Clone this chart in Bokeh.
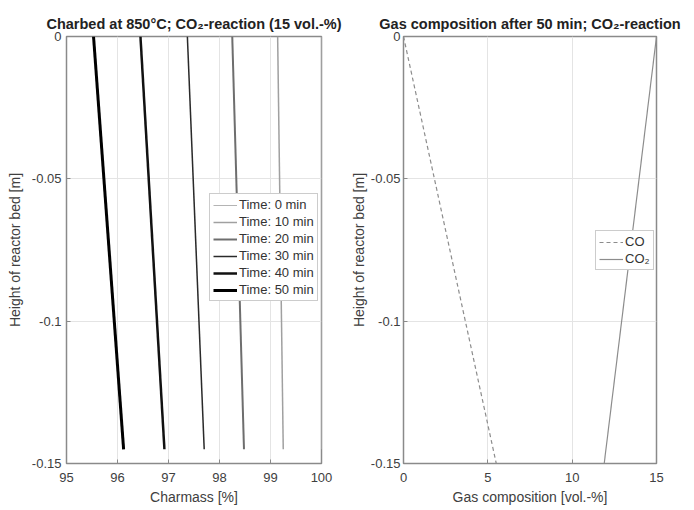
from bokeh.plotting import figure
from bokeh.layouts import row
from bokeh.models import FixedTicker, Legend, LegendItem
from bokeh.embed import file_html
from bokeh.resources import INLINE

# ---- data ----
heights = [0.0, -0.145]
times = [0, 10, 20, 30, 40, 50]
charmass_top = [100.0, 99.14, 98.25, 97.37, 96.45, 95.53]
charmass_bottom = [100.0, 99.25, 98.48, 97.70, 96.92, 96.12]

gas_heights = [0.0, -0.15]
co_values = [0.0, 5.5]
co2_values = [15.0, 11.9]

x1_ticks = [95, 96, 97, 98, 99, 100]
x2_ticks = [0, 5, 10, 15]
y_ticks = [0, -0.05, -0.1, -0.15]
y_tick_labels = {0: "0", -0.05: "-0.05", -0.1: "-0.1", -0.15: "-0.15"}

line_colors = ["#b4b4b4", "#a0a0a0", "#6e6e6e", "#2a2a2a", "#111111", "#000000"]
line_widths = [1, 1.5, 2, 1.5, 2.5, 3]

FONT = "Liberation Sans"
AX = "#8a8a8a"
TXT = "#404040"


def style(p, xticks, xlabel, ylab_standoff, ytick_standoff):
    p.title.text_font = FONT
    p.title.text_font_size = "14.5px"
    p.title.text_font_style = "bold"
    p.title.align = "center"
    p.title.text_color = "#222222"
    p.title.offset = 0
    for ax in (p.xaxis[0], p.yaxis[0]):
        ax.axis_line_color = AX
        ax.major_tick_line_color = AX
        ax.major_tick_in = 4
        ax.major_tick_out = 0
        ax.minor_tick_line_color = None
        ax.major_label_text_font = FONT
        ax.major_label_text_font_size = "13px"
        ax.major_label_text_color = TXT
        ax.axis_label_text_font = FONT
        ax.axis_label_text_font_size = "14px"
        ax.axis_label_text_font_style = "normal"
        ax.axis_label_text_color = TXT
    p.xaxis[0].ticker = FixedTicker(ticks=xticks)
    p.yaxis[0].ticker = FixedTicker(ticks=y_ticks)
    p.yaxis[0].major_label_overrides = y_tick_labels
    p.xaxis[0].axis_label = xlabel
    p.yaxis[0].axis_label = "Height of reactor bed [m]"
    p.xaxis[0].major_label_standoff = 9
    p.xaxis[0].axis_label_standoff = 4
    p.yaxis[0].major_label_standoff = ytick_standoff
    p.yaxis[0].axis_label_standoff = ylab_standoff
    p.xgrid.ticker = FixedTicker(ticks=xticks)
    p.ygrid.ticker = FixedTicker(ticks=y_ticks)
    p.xgrid.grid_line_color = "#e4e4e4"
    p.ygrid.grid_line_color = "#e4e4e4"
    p.outline_line_color = AX
    p.outline_line_width = 1.5
    p.background_fill_color = "white"
    p.border_fill_color = "white"


# ---- left figure ----
p1 = figure(width=345, height=508, output_backend="svg", toolbar_location=None,
            x_range=(95, 100), y_range=(-0.15, 0),
            title="Charbed at 850°C; CO₂-reaction (15 vol.-%)",
            min_border_left=66, min_border_right=24,
            min_border_top=36, min_border_bottom=45)
style(p1, x1_ticks, "Charmass [%]", 6, 5)

items1 = []
for t, xt, xb, c, w in zip(times, charmass_top, charmass_bottom, line_colors, line_widths):
    r = p1.line([xt, xb], heights, line_color=c, line_width=w)
    items1.append(LegendItem(label=f"Time: {t} min", renderers=[r]))

leg1 = Legend(items=items1, location=(143, 162))
p1.add_layout(leg1, "center")

# ---- right figure ----
p2 = figure(width=341, height=508, output_backend="svg", toolbar_location=None,
            x_range=(0, 15), y_range=(-0.15, 0),
            title="Gas composition after 50 min; CO₂-reaction",
            min_border_left=58, min_border_right=30,
            min_border_top=36, min_border_bottom=45)
style(p2, x2_ticks, "Gas composition [vol.-%]", 1, 3)

r_co = p2.line(co_values, gas_heights, line_color="#8c8c8c", line_width=1.2, line_dash="4 3")
r_co2 = p2.line(co2_values, gas_heights, line_color="#8c8c8c", line_width=1.2)
leg2 = Legend(items=[LegendItem(label="CO", renderers=[r_co]),
                     LegendItem(label="CO₂", renderers=[r_co2])],
              location=(192, 193))
p2.add_layout(leg2, "center")

for lg in (leg1, leg2):
    lg.label_text_font = FONT
    lg.label_text_font_size = "13px"
    lg.label_text_color = "#333333"
    lg.label_height = 14
    lg.glyph_height = 14
    lg.glyph_width = 24
    lg.label_standoff = 2
    lg.spacing = 2
    lg.padding = 3
    lg.margin = 0
    lg.border_line_color = "#999999"
    lg.background_fill_color = "white"
    lg.background_fill_alpha = 1

layout = row(p1, p2)
open("out.html", "w").write(file_html(layout, INLINE))
